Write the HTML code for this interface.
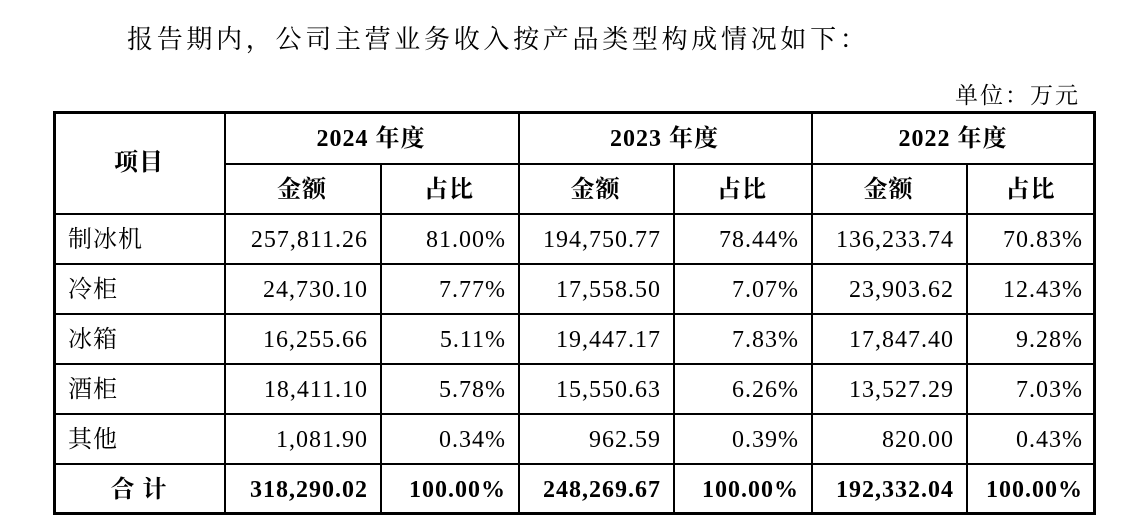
<!DOCTYPE html>
<html><head><meta charset="utf-8"><style>
body{margin:0;width:1146px;height:531px;background:#fff;position:relative;overflow:hidden;font-family:"Liberation Serif","Noto Serif CJK SC",serif;color:#000}
.t{position:absolute;white-space:nowrap;line-height:1}
.h{position:absolute;background:#000}
.c{position:absolute;font-size:24px;letter-spacing:1px;line-height:50px;height:50px;white-space:nowrap}
.b{font-weight:bold}
</style></head><body>
<div class="t" style="left:127px;top:27px;font-size:26px;letter-spacing:3.7px">报告期内，公司主营业务收入按产品类型构成情况如下：</div>
<div class="t" style="left:955px;top:84px;font-size:23px;letter-spacing:2px">单位：万元</div>
<div id="tbl"></div>
<script>
const xs=[54,224,380,518,673,811,966,1095];
const ys=[112,163,213,263,313,363,413,463,514];
const years=["2024 年度","2023 年度","2022 年度"];
const items=["制冰机","冷柜","冰箱","酒柜","其他"];
const amt=[["257,811.26","24,730.10","16,255.66","18,411.10","1,081.90"],["194,750.77","17,558.50","19,447.17","15,550.63","962.59"],["136,233.74","23,903.62","17,847.40","13,527.29","820.00"]];
const pct=[["81.00%","7.77%","5.11%","5.78%","0.34%"],["78.44%","7.07%","7.83%","6.26%","0.39%"],["70.83%","12.43%","9.28%","7.03%","0.43%"]];
const totA=["318,290.02","248,269.67","192,332.04"];
const totP=["100.00%","100.00%","100.00%"];
const t=document.getElementById('tbl');
function line(x,y,w,h){const d=document.createElement('div');d.className='h';d.style.cssText=`left:${x}px;top:${y}px;width:${w}px;height:${h}px`;


t.appendChild(d);}
function cell(txt,x0,x1,y,align,bold,name){const d=document.createElement('div');d.className='c'+(bold?' b':'');d.textContent=txt;
d.style.left=x0+'px';d.style.width=(x1-x0)+'px';d.style.top=y+'px';d.style.textAlign=align;
if(align==='right'){d.style.width=(x1-x0-12)+'px';}
if(align==='left'){d.style.left=(x0+14)+'px';}


t.appendChild(d);}
line(xs[0]-1,ys[0]-1,xs[7]-xs[0]+2,3);line(xs[0]-1,ys[8]-2,xs[7]-xs[0]+2,3);
line(xs[0]-1,ys[0]-1,3,ys[8]-ys[0]+1);line(xs[7]-2,ys[0]-1,3,ys[8]-ys[0]+1);
line(xs[1],ys[1],xs[7]-xs[1],2);
for(let i=2;i<8;i++)line(xs[0],ys[i],xs[7]-xs[0],2);
[1,3,5].forEach(i=>line(xs[i],ys[0],2,ys[8]-ys[0]));
[2,4,6].forEach(i=>line(xs[i],ys[1],2,ys[8]-ys[1]));
cell("项目",xs[0],xs[1],138,'center',true,'header-item');
years.forEach((y,k)=>{cell(y,xs[1+2*k],xs[3+2*k],ys[0]+2,'center',true,'header-year');
cell("金额",xs[1+2*k],xs[2+2*k],ys[1]+2,'center',true,'header-amount');
cell("占比",xs[2+2*k],xs[3+2*k],ys[1]+2,'center',true,'header-share');});
items.forEach((it,r)=>{const y=ys[2+r]+2;cell(it,xs[0],xs[1],y,'left',false,'row-label');
for(let k=0;k<3;k++){cell(amt[k][r],xs[1+2*k],xs[2+2*k],y,'right',false,'amount-cell');cell(pct[k][r],xs[2+2*k],xs[3+2*k],y,'right',false,'share-cell');}});
cell("合 计",xs[0],xs[1],ys[7]+2,'center',true,'total-label');
for(let k=0;k<3;k++){cell(totA[k],xs[1+2*k],xs[2+2*k],ys[7]+2,'right',true,'total-amount');cell(totP[k],xs[2+2*k],xs[3+2*k],ys[7]+2,'right',true,'total-share');}
</script>
</body></html>
